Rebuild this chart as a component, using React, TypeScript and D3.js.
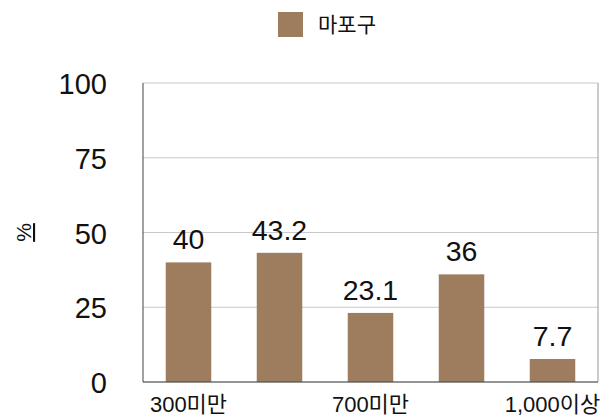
import React from "react";
import * as d3 from "d3";

const categories = ["300미만", "500미만", "700미만", "1,000미만", "1,000이상"];
const shownLabels = ["300미만", "", "700미만", "", "1,000이상"];
const values = [40, 43.2, 23.1, 36, 7.7];
const yTicks = [0, 25, 50, 75, 100];
const seriesName = "마포구";

const W = 614;
const H = 418;
const margin = { left: 143, right: 16, top: 83, bottom: 36 };
const FONT = "'Liberation Sans', Arial, 'Noto Sans CJK KR', sans-serif";
const BAR = "#9d7d5e";

export default function App() {
  const x = d3
    .scaleBand<string>()
    .domain(categories)
    .range([margin.left, W - margin.right])
    .paddingInner(0.5)
    .paddingOuter(0.25);
  const y = d3.scaleLinear().domain([0, 100]).range([H - margin.bottom, margin.top]);

  return (
    <svg
      width={W}
      height={H}
      style={{ position: "absolute", left: 0, top: 0, background: "#fff" }}
      fontFamily={FONT}
    >
      {/* legend */}
      <rect x={278} y={12} width={25} height={25} fill={BAR} />
      <text x={318} y={32} fontSize={21} fill="#111">
        {seriesName}
      </text>

      {/* grid */}
      {yTicks.map((t) => (
        <line
          key={t}
          x1={margin.left}
          x2={W - margin.right}
          y1={y(t)}
          y2={y(t)}
          stroke="#c8c8c8"
          strokeWidth={1}
        />
      ))}
      <line
        x1={W - margin.right}
        x2={W - margin.right}
        y1={y(100)}
        y2={y(0)}
        stroke="#999"
        strokeWidth={1}
      />

      {/* bars */}
      {categories.map((c, i) => (
        <rect
          key={c}
          x={x(c)}
          y={y(values[i])}
          width={x.bandwidth()}
          height={y(0) - y(values[i])}
          fill={BAR}
        />
      ))}
      {categories.map((c, i) => (
        <text
          key={c + "l"}
          x={(x(c) as number) + x.bandwidth() / 2}
          y={y(values[i]) - 13}
          textAnchor="middle"
          fontSize={28.5}
          fill="#111"
        >
          {values[i]}
        </text>
      ))}

      {/* axes */}
      <line x1={margin.left} x2={margin.left} y1={y(100)} y2={y(0)} stroke="#444" strokeWidth={1} />
      <line x1={margin.left} x2={W - margin.right} y1={y(0)} y2={y(0)} stroke="#444" strokeWidth={1} />

      {yTicks.map((t) => (
        <text
          key={"t" + t}
          x={107}
          y={y(t) + 11}
          textAnchor="end"
          fontSize={29}
          fill="#111"
        >
          {t}
        </text>
      ))}
      {categories.map((c, i) => (
        <text
          key={"x" + c}
          x={(x(c) as number) + x.bandwidth() / 2}
          y={412}
          textAnchor="middle"
          fontSize={22}
          fill="#111"
        >
          {shownLabels[i]}
        </text>
      ))}

      <text
        transform={`translate(31,${y(50)}) rotate(-90)`}
        textAnchor="middle"
        fontSize={21}
        fill="#111"
        textDecoration="underline"
      >
        %
      </text>
    </svg>
  );
}
